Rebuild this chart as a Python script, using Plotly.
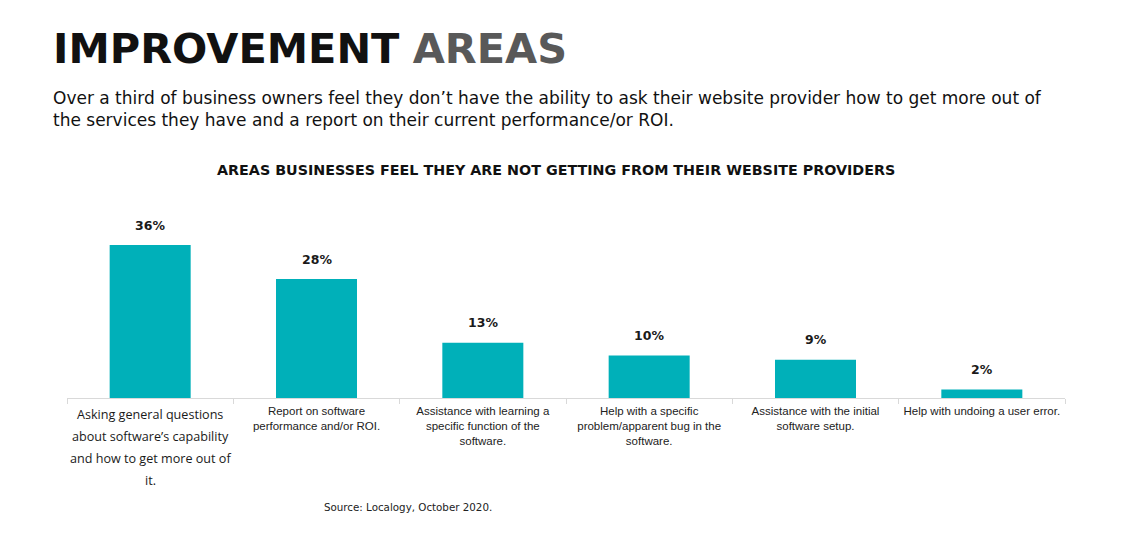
import plotly.graph_objects as go

# %% Data
categories = [
    'Asking general questions about software’s capability and how to get more out of it.',
    'Report on software performance and/or ROI.',
    'Assistance with learning a specific function of the software.',
    'Help with a specific problem/apparent bug in the software.',
    'Assistance with the initial software setup.',
    'Help with undoing a user error.',
]
values = [36, 28, 13, 10, 9, 2]
tick_labels = [
    '',
    'Report on software<br>performance and/or ROI.',
    'Assistance with learning a<br>specific function of the<br>software.',
    'Help with a specific<br>problem/apparent bug in the<br>software.',
    'Assistance with the initial<br>software setup.',
    'Help with undoing a user error.',
]
first_label_lines = [
    'Asking general questions',
    'about software’s capability',
    'and how to get more out of',
    'it.',
]

W, H = 1136, 552
OFF = 8  # page margin of the browser shifts everything by this much
PLOT_L, PLOT_R, PLOT_T, PLOT_B = 67, 1065, 228, 398  # in screenshot pixels
BAR_COLOR = '#00B0B9'
HEAD_FONT = 'DejaVu Sans'


def px_x(px):
    """ screenshot pixel -> paper x """
    return (px - PLOT_L) / (PLOT_R - PLOT_L)


def px_y(py):
    """ screenshot pixel -> paper y """
    return (PLOT_B - py) / (PLOT_B - PLOT_T)


fig = go.Figure()
fig.add_trace(
    go.Bar(
        x=categories,
        y=values,
        marker=dict(color=BAR_COLOR, line_width=0),
        width=0.487,
        hoverinfo='skip',
    )
)

annotations = []

# percent labels above bars
for cat, val in zip(categories, values):
    annotations.append(
        dict(
            x=cat, y=val, xref='x', yref='y', text=f'<b>{val}%</b>',
            showarrow=False, yanchor='middle', yshift=20,
            font=dict(family=HEAD_FONT, size=12.5, color='#1a1a1a'),
        )
    )

# first category label, drawn line by line (looser line spacing)
for i, line in enumerate(first_label_lines):
    annotations.append(
        dict(
            x=categories[0], y=0, xref='x', yref='paper', text=line,
            showarrow=False, yanchor='middle', yshift=-(16 + 22 * i),
            font=dict(family='Open Sans', size=12.6, color='#1a1a1a'),
        )
    )

annotations += [
    dict(
        x=px_x(51), y=px_y(48), xref='paper', yref='paper', xanchor='left',
        yanchor='middle', showarrow=False,
        text='<b>IMPROVEMENT</b> <span style="color:#595959"><b>AREAS</b></span>',
        font=dict(family=HEAD_FONT, size=41.5, color='#111111'),
    ),
    dict(
        x=px_x(51), y=px_y(86), xref='paper', yref='paper', xanchor='left',
        yanchor='top', align='left', showarrow=False,
        text='Over a third of business owners feel they don’t have the ability to ask their '
        'website provider how to get more out of<br>the services they have and a report on '
        'their current performance/or ROI.',
        font=dict(family=HEAD_FONT, size=17, color='#111111'),
    ),
    dict(
        x=px_x(556), y=px_y(170), xref='paper', yref='paper', xanchor='center',
        yanchor='middle', showarrow=False,
        text='<b>AREAS BUSINESSES FEEL THEY ARE NOT GETTING FROM THEIR WEBSITE PROVIDERS</b>',
        font=dict(family=HEAD_FONT, size=14.3, color='#111111'),
    ),
    dict(
        x=px_x(408), y=px_y(507), xref='paper', yref='paper', xanchor='center',
        yanchor='middle', showarrow=False,
        text='Source: Localogy, October 2020.',
        font=dict(family=HEAD_FONT, size=10.3, color='#222222'),
    ),
]

fig.update_layout(
    width=W,
    height=H,
    margin=dict(
        l=PLOT_L - OFF, r=W - (PLOT_R - OFF), t=PLOT_T - OFF, b=H - (PLOT_B - OFF), pad=0
    ),
    paper_bgcolor='white',
    plot_bgcolor='white',
    showlegend=False,
    annotations=annotations,
)
fig.update_xaxes(
    type='category',
    tickmode='array',
    tickvals=categories,
    ticktext=tick_labels,
    tickson='boundaries',
    ticks='outside',
    ticklen=5,
    tickcolor='#d9d9d9',
    ticklabelstandoff=2,
    showline=True,
    linecolor='#d9d9d9',
    linewidth=1,
    showgrid=False,
    tickfont=dict(family='Liberation Sans, Arial', size=11.5, color='#222222'),
)
fig.update_yaxes(range=[0, 40], visible=False, showgrid=False, zeroline=False)

fig.write_html('out.html')
